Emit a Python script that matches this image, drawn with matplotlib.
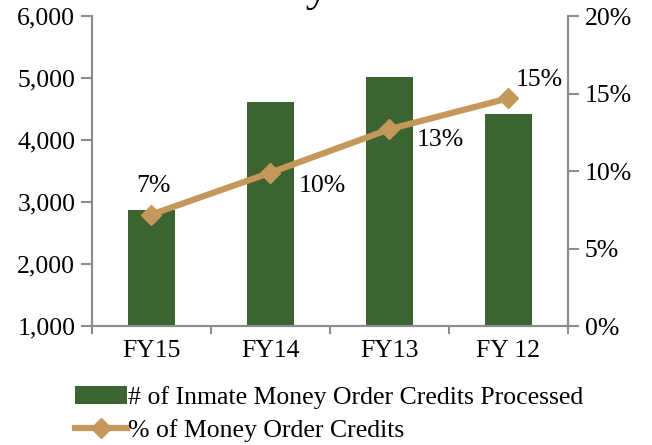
import matplotlib.pyplot as plt
from matplotlib.ticker import FuncFormatter

years = ['FY15', 'FY14', 'FY13', 'FY 12']
credits = [2880, 4610, 5010, 4420]
pct = [7.2, 9.9, 12.7, 14.7]
pct_labels = ['7%', '10%', '13%', '15%']

plt.rcParams['font.family'] = ['Liberation Serif', 'DejaVu Serif']
green = '#3b6431'
tan = '#c4975a'
gray = '#8c8c8c'
fs = 18.5

fig = plt.figure(figsize=(6.52, 4.45), dpi=100)
ax = fig.add_axes([0.141, 0.267, 0.730, 0.697])
ax2 = ax.twinx()

x = range(len(years))
bars = ax.bar(x, credits, width=0.4, color=green, zorder=2,
              label='# of Inmate Money Order Credits Processed')
line, = ax2.plot(x, pct, color=tan, lw=4.5, marker='D', ms=10,
                 label='% of Money Order Credits', zorder=3)

ax.set_xlim(-0.5, 3.5)
ax.set_ylim(1000, 6000)
ax.set_yticks(range(1000, 6001, 1000))
ax.yaxis.set_major_formatter(FuncFormatter(lambda v, p: f'{int(v):,}'))
ax2.set_ylim(0, 20)
ax2.set_yticks(range(0, 21, 5))
ax2.yaxis.set_major_formatter(FuncFormatter(lambda v, p: f'{int(v)}%'))

ax.set_xticks(x)
ax.set_xticklabels(years)
ax.set_xticks([-0.5, 0.5, 1.5, 2.5, 3.5], minor=True)
ax.tick_params(axis='x', which='major', length=0, labelsize=fs, pad=10)
ax.tick_params(axis='x', which='minor', length=6, color=gray, width=1.5)
ax.tick_params(axis='y', length=8, color=gray, width=1.5, labelsize=fs, pad=4)
ax2.tick_params(axis='y', length=8, color=gray, width=1.5, labelsize=fs, pad=4)

for a in (ax, ax2):
    a.spines['top'].set_visible(False)
    for s in ('left', 'right', 'bottom'):
        a.spines[s].set_color(gray)
        a.spines[s].set_linewidth(1.5)

offsets = [(0.02, 1.85), (0.24, -0.85), (0.23, -0.7), (0.06, 1.2)]
for i, (lab, (dx, dy)) in enumerate(zip(pct_labels, offsets)):
    ax2.text(i + dx, pct[i] + dy, lab, fontsize=fs,
             ha='left' if dx > 0.05 else 'center', va='center')

fig.text(0.5, 1.0, 'Inmate Money Order Credits', fontsize=34, ha='center',
         va='baseline')

fig.legend(handles=[bars, line], loc='lower left', bbox_to_anchor=(0.1, -0.016),
           frameon=False, fontsize=fs, handlelength=2.0, handletextpad=0.05,
           labelspacing=0.4, borderaxespad=0)

fig.savefig('out.png', dpi=100)
